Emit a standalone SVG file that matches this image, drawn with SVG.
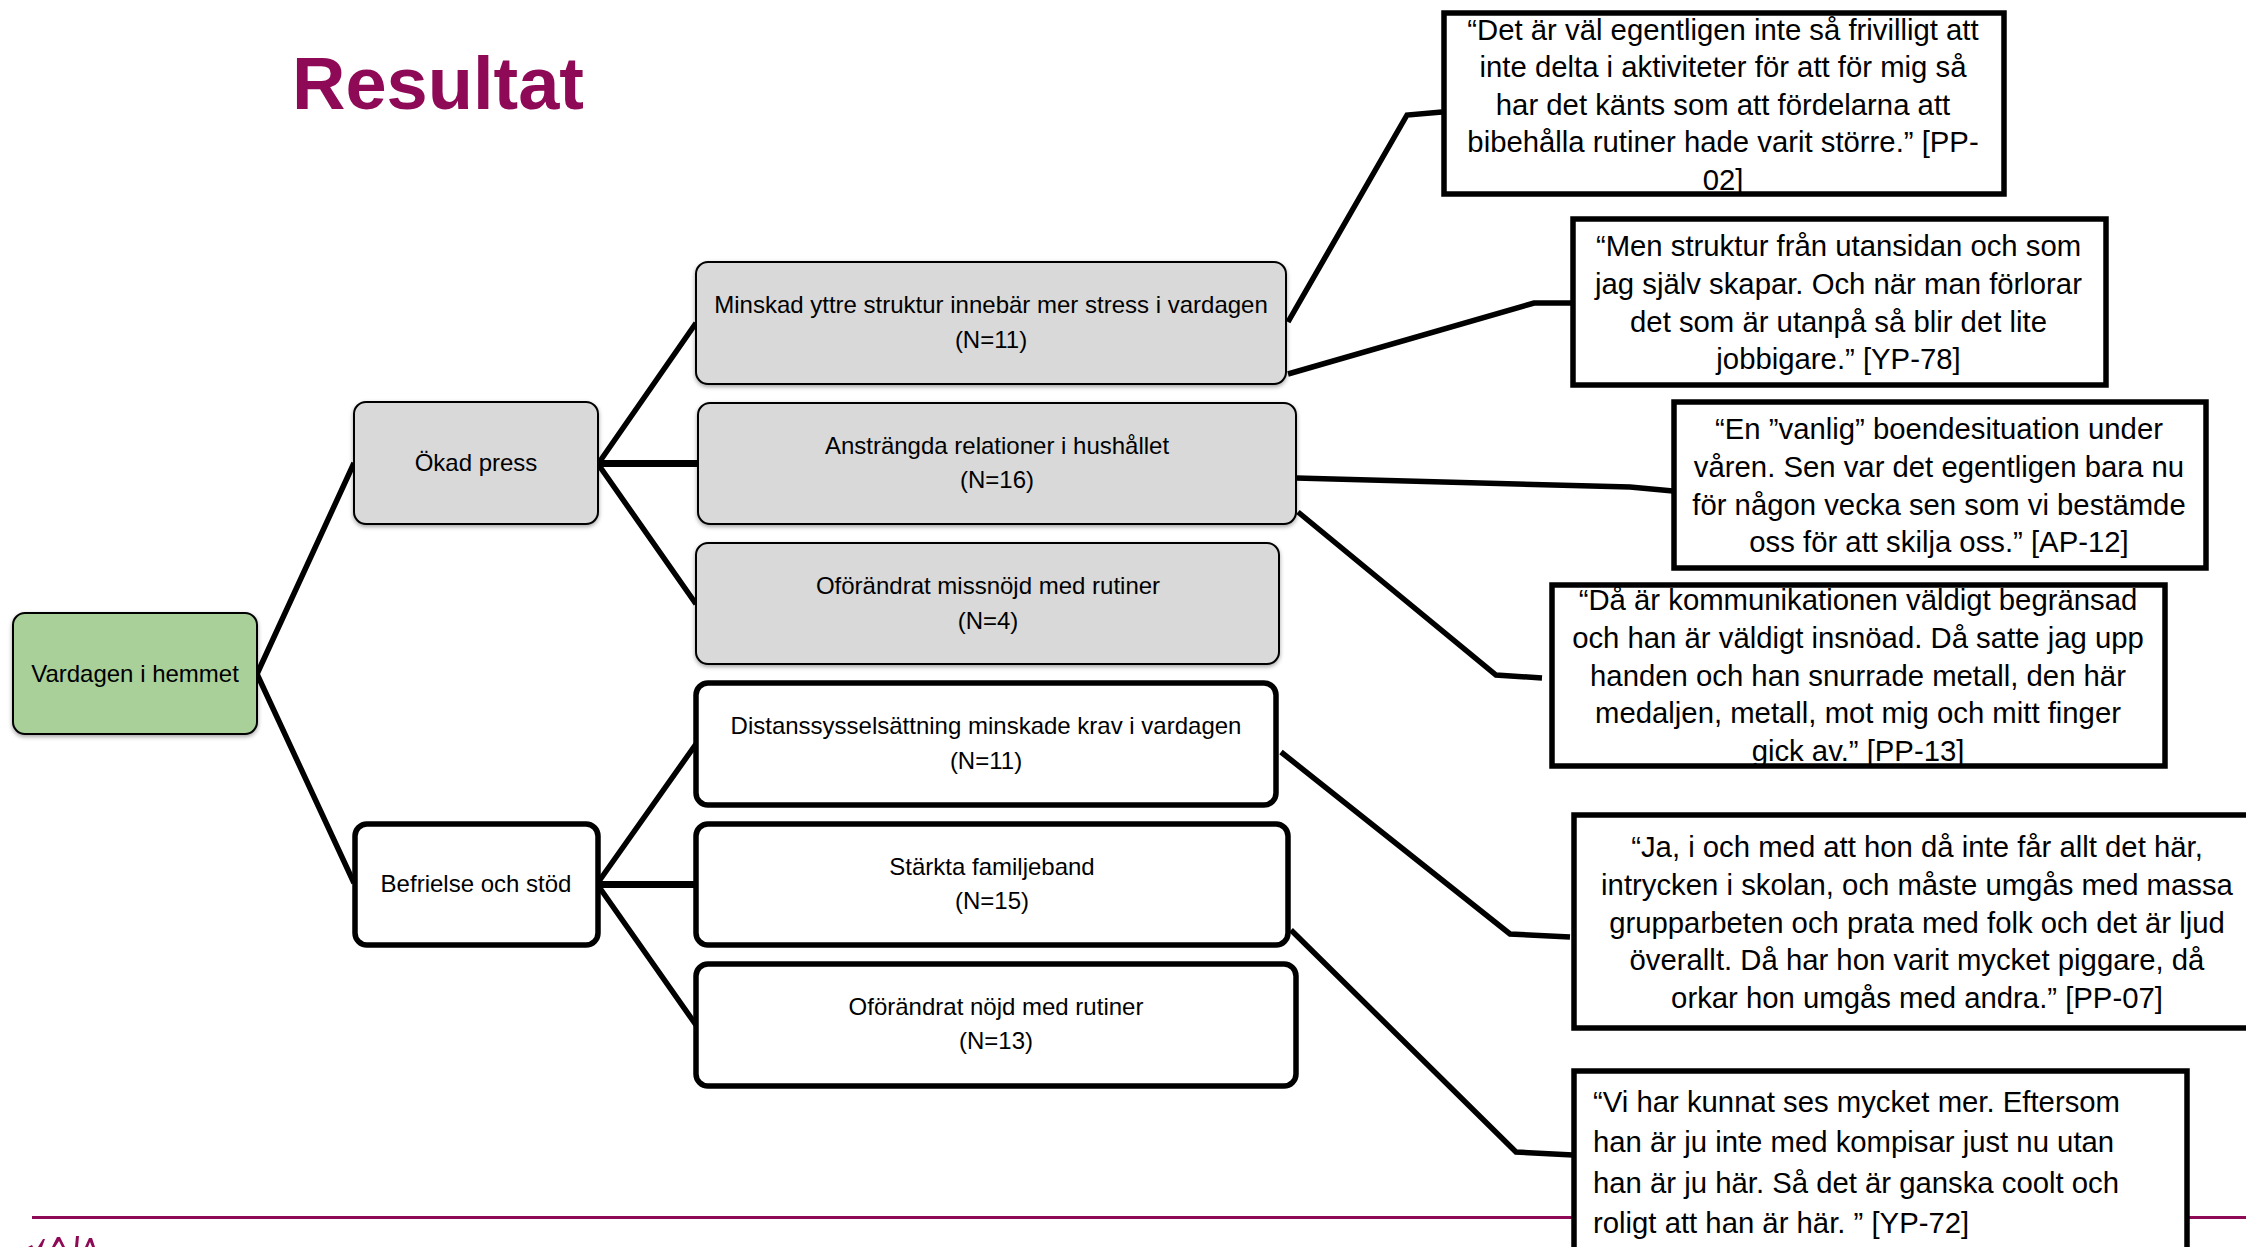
<svg xmlns="http://www.w3.org/2000/svg" width="2246" height="1247" viewBox="0 0 2246 1247">
<defs>
<filter id="sh" x="-5%" y="-5%" width="110%" height="115%"><feDropShadow dx="0" dy="2" stdDeviation="2" flood-color="#000" flood-opacity="0.35"/></filter>
</defs>
<style>
text{font-family:"Liberation Sans",Arial,sans-serif;fill:#000;text-anchor:middle}
.n{font-size:24px}
.q{font-size:29.3px}
.l{font-size:29.3px;text-anchor:start}
.g{fill:#d9d9d9;stroke:#000;stroke-width:2}
.gr{fill:#a9d099;stroke:#000;stroke-width:2}
.w{fill:#fff;stroke:#000;stroke-width:5.500}
.b{fill:#fff;stroke:#000;stroke-width:5.500}
.c{fill:none;stroke:#000;stroke-width:5.500;stroke-linejoin:miter}
</style>
<rect width="2246" height="1247" fill="#fff"/>
<g id="footer">
<rect x="32" y="1216" width="2214" height="3" fill="#8f0a56"/>
<path d="M28 1247l4-2 1 2zM38 1247l5-8 2 0-3 8zM52 1247l5-10 3 0 5 10h-3l-3-6-4 6zM75 1247l1-11h3l-1 11zM85 1247l4-9 3 0 3 9h-3l-2-5-2 5z" fill="#8f0a56"/>
</g>
<text id="title" x="438" y="109" style="font-size:74px;font-weight:bold;fill:#8f0a56">Resultat</text>
<g id="connectors">
<path class="c" d="M257 674L354 463M257 674L354 883"/>
<path class="c" d="M598 464L696 323M598 464L696 604"/>
<path d="M598 463.500L698 463.500" fill="none" stroke="#000" stroke-width="7"/>
<path class="c" d="M597 884L696 744M597 884L696 1025"/>
<path d="M597 884.500L696 884.500" fill="none" stroke="#000" stroke-width="7"/>
<path class="c" d="M1288 322L1407 115L1442 112"/>
<path class="c" d="M1288 374L1534 303L1573 303"/>
<path class="c" d="M1296 478L1630 487L1673 491"/>
<path class="c" d="M1298 512L1496 675L1542 678"/>
<path class="c" d="M1281 752L1510 934L1570 937"/>
<path class="c" d="M1291 930L1516 1152L1573 1155"/>
</g>
<g id="n0"><rect class="gr" x="13" y="613" width="244" height="121" rx="12" filter="url(#sh)"/><text class="n" x="135" y="682">Vardagen i hemmet</text></g>
<g id="n1"><rect class="g" x="354" y="402" width="244" height="122" rx="12" filter="url(#sh)"/><text class="n" x="476" y="471">Ökad press</text></g>
<g id="n2"><rect class="b" x="355" y="824" width="243" height="121" rx="12"/><text class="n" x="476" y="892">Befrielse och stöd</text></g>
<g id="n3"><rect class="g" x="696" y="262" width="590" height="122" rx="12" filter="url(#sh)"/><text class="n" x="991" y="313">Minskad yttre struktur innebär mer stress i vardagen</text><text class="n" x="991" y="348">(N=11)</text></g>
<g id="n4"><rect class="g" x="698" y="403" width="598" height="121" rx="12" filter="url(#sh)"/><text class="n" x="997" y="454">Ansträngda relationer i hushållet</text><text class="n" x="997" y="488">(N=16)</text></g>
<g id="n5"><rect class="g" x="696" y="543" width="583" height="121" rx="12" filter="url(#sh)"/><text class="n" x="988" y="594">Oförändrat missnöjd med rutiner</text><text class="n" x="988" y="629">(N=4)</text></g>
<g id="n6"><rect class="b" x="696" y="683" width="580" height="122" rx="12"/><text class="n" x="986" y="734">Distanssysselsättning minskade krav i vardagen</text><text class="n" x="986" y="769">(N=11)</text></g>
<g id="n7"><rect class="b" x="696" y="824" width="592" height="121" rx="12"/><text class="n" x="992" y="875">Stärkta familjeband</text><text class="n" x="992" y="909">(N=15)</text></g>
<g id="n8"><rect class="b" x="696" y="964" width="600" height="122" rx="12"/><text class="n" x="996" y="1015">Oförändrat nöjd med rutiner</text><text class="n" x="996" y="1049">(N=13)</text></g>
<g id="q1"><rect class="w" x="1444" y="13" width="560" height="181"/>
<text class="q" x="1723" y="40">“Det är väl egentligen inte så frivilligt att</text><text class="q" x="1723" y="77">inte delta i aktiviteter för att för mig så</text><text class="q" x="1723" y="115">har det känts som att fördelarna att</text><text class="q" x="1723" y="152">bibehålla rutiner hade varit större.” [PP-</text><text class="q" x="1723" y="190">02]</text></g>
<g id="q2"><rect class="w" x="1573" y="219" width="533" height="166"/>
<text class="q" x="1838.500" y="256">“Men struktur från utansidan och som</text><text class="q" x="1838.500" y="294">jag själv skapar. Och när man förlorar</text><text class="q" x="1838.500" y="332">det som är utanpå så blir det lite</text><text class="q" x="1838.500" y="369">jobbigare.” [YP-78]</text></g>
<g id="q3"><rect class="w" x="1674" y="402" width="532" height="166"/>
<text class="q" x="1939" y="439">“En ”vanlig” boendesituation under</text><text class="q" x="1939" y="477">våren. Sen var det egentligen bara nu</text><text class="q" x="1939" y="515">för någon vecka sen som vi bestämde</text><text class="q" x="1939" y="552">oss för att skilja oss.” [AP-12]</text></g>
<g id="q4"><rect class="w" x="1552" y="585" width="613" height="181"/>
<text class="q" x="1858" y="610">“Då är kommunikationen väldigt begränsad</text><text class="q" x="1858" y="648">och han är väldigt insnöad. Då satte jag upp</text><text class="q" x="1858" y="686">handen och han snurrade metall, den här</text><text class="q" x="1858" y="723">medaljen, metall, mot mig och mitt finger</text><text class="q" x="1858" y="761">gick av.” [PP-13]</text></g>
<g id="q5"><rect class="w" x="1574" y="815" width="680" height="213"/>
<text class="q" x="1917" y="857">“Ja, i och med att hon då inte får allt det här,</text><text class="q" x="1917" y="895">intrycken i skolan, och måste umgås med massa</text><text class="q" x="1917" y="933">grupparbeten och prata med folk och det är ljud</text><text class="q" x="1917" y="970">överallt. Då har hon varit mycket piggare, då</text><text class="q" x="1917" y="1008">orkar hon umgås med andra.” [PP-07]</text></g>
<g id="q6"><rect class="w" x="1574" y="1071" width="613" height="190"/>
<text class="l" x="1593" y="1112">“Vi har kunnat ses mycket mer. Eftersom</text><text class="l" x="1593" y="1152">han är ju inte med kompisar just nu utan</text><text class="l" x="1593" y="1193">han är ju här. Så det är ganska coolt och</text><text class="l" x="1593" y="1233">roligt att han är här. ” [YP-72]</text></g>
</svg>
